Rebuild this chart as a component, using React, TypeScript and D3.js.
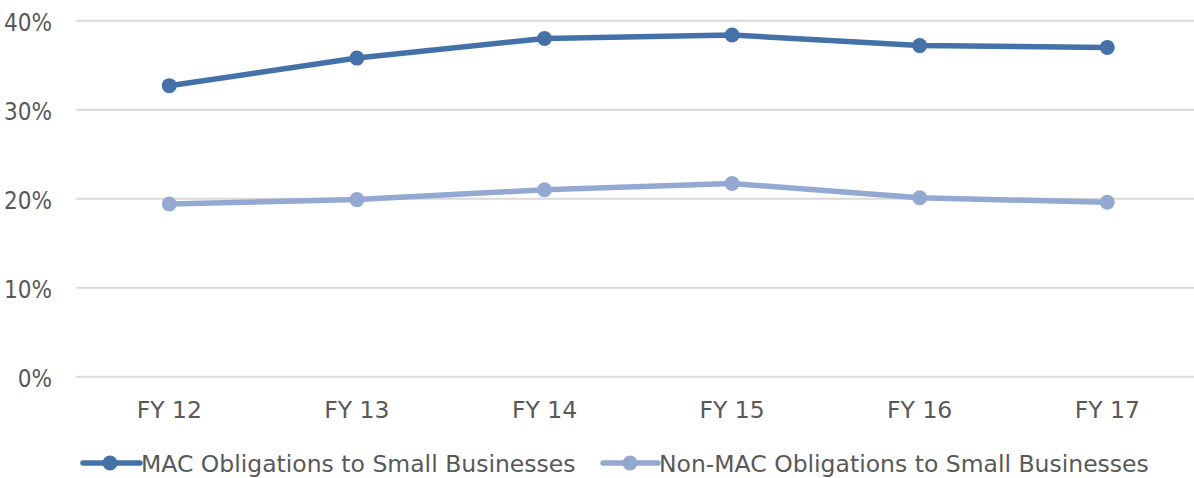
import React from "react";
import * as d3 from "d3";

const years = ["FY 12", "FY 13", "FY 14", "FY 15", "FY 16", "FY 17"];
const macValues = [32.7, 35.8, 38.0, 38.4, 37.2, 37.0];
const nonMacValues = [19.4, 19.9, 21.0, 21.7, 20.1, 19.6];
const yTicks = [0, 10, 20, 30, 40];
const seriesNames = ["MAC Obligations to Small Businesses", "Non-MAC Obligations to Small Businesses"];
const seriesColors = ["#4472a8", "#93a9d1"];

const App = () => {
  const ref = React.useRef<SVGSVGElement>(null);

  React.useEffect(() => {
    const width = 1194;
    const font = "'DejaVu Sans', sans-serif";
    const fontNarrow = "'DejaVu Sans Condensed', 'DejaVu Sans', sans-serif";
    const textColor = "#595959";

    const svg = d3.select(ref.current);
    svg.selectAll("*").remove();

    const x = d3.scalePoint<string>()
      .domain(years)
      .range([169.3, 1107.3]);

    const y = d3.scaleLinear()
      .domain([0, 40])
      .range([376.7, 20.7]);

    // grid
    svg.append("g")
      .selectAll("line")
      .data(yTicks)
      .join("line")
      .attr("x1", 76)
      .attr("x2", width)
      .attr("y1", d => y(d))
      .attr("y2", d => y(d))
      .attr("stroke", "#d9d9d9")
      .attr("stroke-width", 2);

    // y labels
    svg.append("g")
      .selectAll("text")
      .data(yTicks)
      .join("text")
      .attr("x", 52)
      .attr("y", d => y(d) + 10)
      .attr("text-anchor", "end")
      .attr("font-family", fontNarrow)
      .attr("font-size", 24)
      .attr("fill", textColor)
      .text(d => d + "%");

    // x labels
    svg.append("g")
      .selectAll("text")
      .data(years)
      .join("text")
      .attr("x", d => x(d)!)
      .attr("y", 418.3)
      .attr("text-anchor", "middle")
      .attr("font-family", font)
      .attr("font-size", 23.5)
      .attr("fill", textColor)
      .text(d => d);

    const line = d3.line<number>()
      .x((d, i) => x(years[i])!)
      .y(d => y(d));

    const allSeries = [macValues, nonMacValues];

    // lighter series first so the dark one sits on top
    [1, 0].forEach(k => {
      const g = svg.append("g");
      g.append("path")
        .datum(allSeries[k])
        .attr("fill", "none")
        .attr("stroke", seriesColors[k])
        .attr("stroke-width", 5.5)
        .attr("stroke-linejoin", "round")
        .attr("d", line);
      g.selectAll("circle")
        .data(allSeries[k])
        .join("circle")
        .attr("cx", (d, i) => x(years[i])!)
        .attr("cy", d => y(d))
        .attr("r", 7.5)
        .attr("fill", seriesColors[k]);
    });

    // legend
    const legendItems = [
      { x0: 83, x1: 140, cx: 110 },
      { x0: 603, x1: 658, cx: 630 }
    ];
    const ly = 463;
    legendItems.forEach((l, k) => {
      const g = svg.append("g");
      g.append("line")
        .attr("x1", l.x0)
        .attr("x2", l.x1)
        .attr("y1", ly)
        .attr("y2", ly)
        .attr("stroke", seriesColors[k])
        .attr("stroke-width", 5.5)
        .attr("stroke-linecap", "round");
      g.append("circle")
        .attr("cx", l.cx)
        .attr("cy", ly)
        .attr("r", 7.5)
        .attr("fill", seriesColors[k]);
      g.append("text")
        .attr("x", l.x1 + 1)
        .attr("y", 471.5)
        .attr("font-family", font)
        .attr("font-size", 23.5)
        .attr("fill", textColor)
        .text(seriesNames[k]);
    });
  }, []);

  return (
    <svg
      ref={ref}
      width={1194}
      height={478}
      style={{ position: "absolute", left: 0, top: 0, background: "#fff" }}
    />
  );
};

export default App;
